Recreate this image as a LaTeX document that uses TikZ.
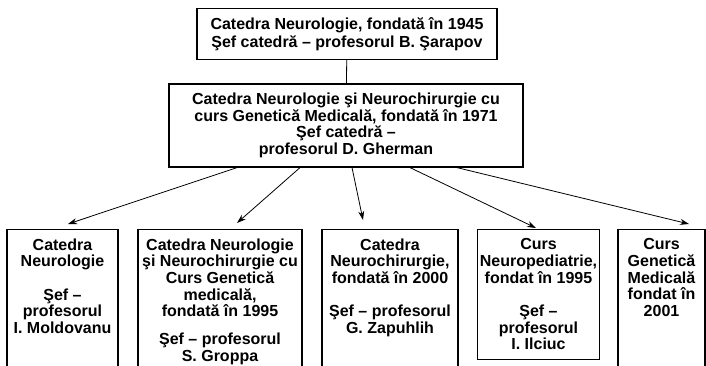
\documentclass[tikz,border=0pt]{standalone}
\usepackage{fontspec}
\setmainfont{Liberation Sans}
\usetikzlibrary{arrows.meta}
\begin{document}
\begin{tikzpicture}
		[	x=1pt,y=1pt,
		unit/.style={rectangle,draw=black,line width=1.2pt,fill=white,align=center,
			font=\fontsize{16}{16.7}\selectfont\bfseries,inner xsep=2pt,inner ysep=9pt},
		cut/.style={unit,anchor=north,text depth=60pt},
		arr/.style={-{Stealth[length=9pt,width=6pt]},line width=0.8pt}
		]
		\useasboundingbox (0,0) rectangle (706,365);
		\node[unit,minimum width=300,minimum height=48] (found) at (347,331)
			{Catedra Neurologie, fondată în 1945\\[1pt]Şef catedră – profesorul B. Şarapov};
		\node[unit,minimum width=354,minimum height=79] (dept) at (346,239.5)
			{Catedra Neurologie şi Neurochirurgie cu\\curs Genetică Medicală, fondată în 1971\\Şef catedră –\\profesorul D. Gherman};

		\node[cut,minimum width=111] (neuro) at (62.5,136)
			{Catedra\\Neurologie\\[16.7pt]Şef –\\profesorul\\I. Moldovanu};
		\node[cut,minimum width=164] (neurochir) at (220,136)
			{Catedra Neurologie\\şi Neurochirurgie cu\\Curs Genetică\\medicală,\\fondată în 1995\\[11pt]Şef – profesorul\\S. Groppa};
		\node[cut,minimum width=136] (chir) at (390,136)
			{Catedra\\Neurochirurgie,\\fondată în 2000\\[16.7pt]Şef – profesorul\\G. Zapuhlih};
		\node[unit,anchor=north,minimum width=119] (ped) at (538.5,136)
			{Curs\\Neuropediatrie,\\fondat în 1995\\[16.7pt]Şef –\\profesorul\\I. Ilciuc};
		\node[cut,minimum width=87] (gen) at (661.5,136)
			{Curs\\Genetică\\Medicală\\fondat în\\2001};

		\draw[line width=0.8pt] (found) -- (dept);
		\draw[arr] ([xshift=-109pt]dept.south) -- ([xshift=5.5pt,yshift=5pt]neuro.north);
		\draw[arr] ([xshift=-46pt]dept.south) -- ([xshift=17pt,yshift=6pt]neurochir.north);
		\draw[arr] ([xshift=6pt]dept.south) -- ([xshift=-27pt,yshift=9pt]chir.north);
		\draw[arr] ([xshift=64pt]dept.south) -- ([xshift=-2.5pt,yshift=1pt]ped.north);
		\draw[arr] ([xshift=111pt]dept.south) -- ([xshift=27.5pt,yshift=5pt]gen.north);
	\end{tikzpicture}
\end{document}
